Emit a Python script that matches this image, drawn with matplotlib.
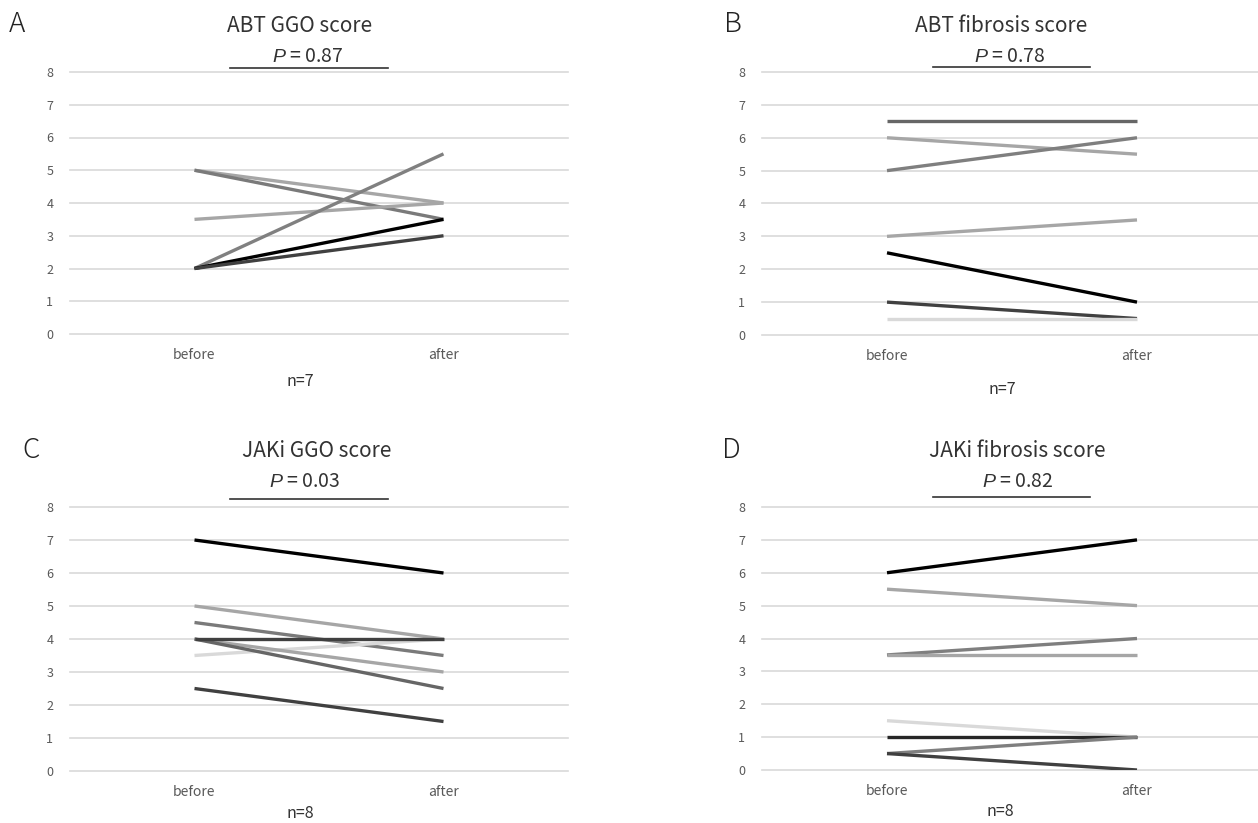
import matplotlib.pyplot as plt
from matplotlib.lines import Line2D

plt.rcParams['font.family'] = ['Noto Sans CJK JP', 'DejaVu Sans']
plt.rcParams['mathtext.fontset'] = 'custom'
plt.rcParams['mathtext.it'] = 'Liberation Sans:italic'
plt.rcParams['mathtext.rm'] = 'Liberation Sans'

categories = ['before', 'after']

# panel A: ABT GGO score
a_before = [5, 5, 3.5, 2, 2, 2]
a_after = [4, 3.5, 4, 5.5, 3.5, 3]
a_colors = ['#a6a6a6', '#7a7a7a', '#a6a6a6', '#808080', '#000000', '#404040']

# panel B: ABT fibrosis score
b_before = [6.5, 6, 5, 3, 2.5, 1, 0.5]
b_after = [6.5, 5.5, 6, 3.5, 1, 0.5, 0.5]
b_colors = ['#666666', '#a6a6a6', '#7f7f7f', '#a6a6a6', '#000000', '#404040', '#d9d9d9']

# panel C: JAKi GGO score
c_before = [7, 5, 4.5, 3.5, 4, 4, 4, 2.5]
c_after = [6, 4, 3.5, 4, 3, 2.5, 4, 1.5]
c_colors = ['#000000', '#a6a6a6', '#7a7a7a', '#d9d9d9', '#a6a6a6', '#666666', '#404040', '#404040']

# panel D: JAKi fibrosis score
d_before = [6, 5.5, 3.5, 3.5, 1.5, 1, 0.5, 0.5]
d_after = [7, 5, 4, 3.5, 1, 1, 1, 0]
d_colors = ['#000000', '#a6a6a6', '#7f7f7f', '#a6a6a6', '#d9d9d9', '#262626', '#7f7f7f', '#404040']

letters = ['A', 'B', 'C', 'D']
titles = ['ABT GGO score', 'ABT fibrosis score', 'JAKi GGO score', 'JAKi fibrosis score']
pvals = ['0.87', '0.78', '0.03', '0.82']
ns = ['n=7', 'n=7', 'n=8', 'n=8']

W, H = 1258, 823
fig = plt.figure(figsize=(W / 100, H / 100), dpi=100)

# pixel layout of each panel (left, top, right, bottom of plot area)
boxes = [(70, 72, 568, 334), (762, 72, 1262, 335), (70, 507, 568, 771), (762, 507, 1262, 770)]
letter_pos = [(9, 24), (724, 24), (22, 450), (722, 450)]
title_pos = [(300, 26), (1001, 26), (317, 451), (1017, 451)]
p_pos = [(308, 57), (1010, 56), (305, 481), (1018, 481)]
line_pos = [(230, 388, 68), (933, 1090, 67), (230, 388, 499), (933, 1090, 497)]
n_pos = [(300, 381), (1002, 389), (300, 813), (1000, 812)]

data = [(a_before, a_after, a_colors), (b_before, b_after, b_colors),
        (c_before, c_after, c_colors), (d_before, d_after, d_colors)]

for i, (bef, aft, cols) in enumerate(data):
    l, t, r, b = boxes[i]
    ax = fig.add_axes([l / W, 1 - b / H, (r - l) / W, (b - t) / H])
    for y in range(9):
        ax.axhline(y, color='#d9d9d9', lw=1.2, zorder=0, clip_on=False)
    for y0, y1, c in zip(bef, aft, cols):
        ax.plot([0, 1], [y0, y1], color=c, lw=2.4, solid_capstyle='butt')
    ax.set_xlim(-0.5, 1.5)
    ax.set_ylim(0, 8)
    ax.set_xticks([0, 1])
    ax.set_xticklabels(categories, fontsize=10)
    ax.set_yticks(range(9))
    ax.tick_params(length=0, colors='#595959', labelsize=9)
    ax.tick_params(axis='x', labelsize=10, pad=10)
    ax.tick_params(axis='y', pad=12)
    for s in ax.spines.values():
        s.set_visible(False)

    fig.text(letter_pos[i][0] / W, 1 - letter_pos[i][1] / H, letters[i],
             fontsize=20, fontweight='light', ha='left', va='center', color='#222222')
    fig.text(title_pos[i][0] / W, 1 - title_pos[i][1] / H, titles[i],
             fontsize=15, ha='center', va='center', color='#333333')
    fig.text(p_pos[i][0] / W, 1 - p_pos[i][1] / H, r'$\it{P}$' + ' = ' + pvals[i],
             fontsize=14, ha='center', va='center', color='#333333')
    x0, x1, yl = line_pos[i]
    fig.add_artist(Line2D([x0 / W, x1 / W], [1 - yl / H, 1 - yl / H],
                          color='#333333', lw=1.2))
    fig.text(n_pos[i][0] / W, 1 - n_pos[i][1] / H, ns[i],
             fontsize=11.5, ha='center', va='center', color='#333333')

fig.savefig('out.png', dpi=100)
